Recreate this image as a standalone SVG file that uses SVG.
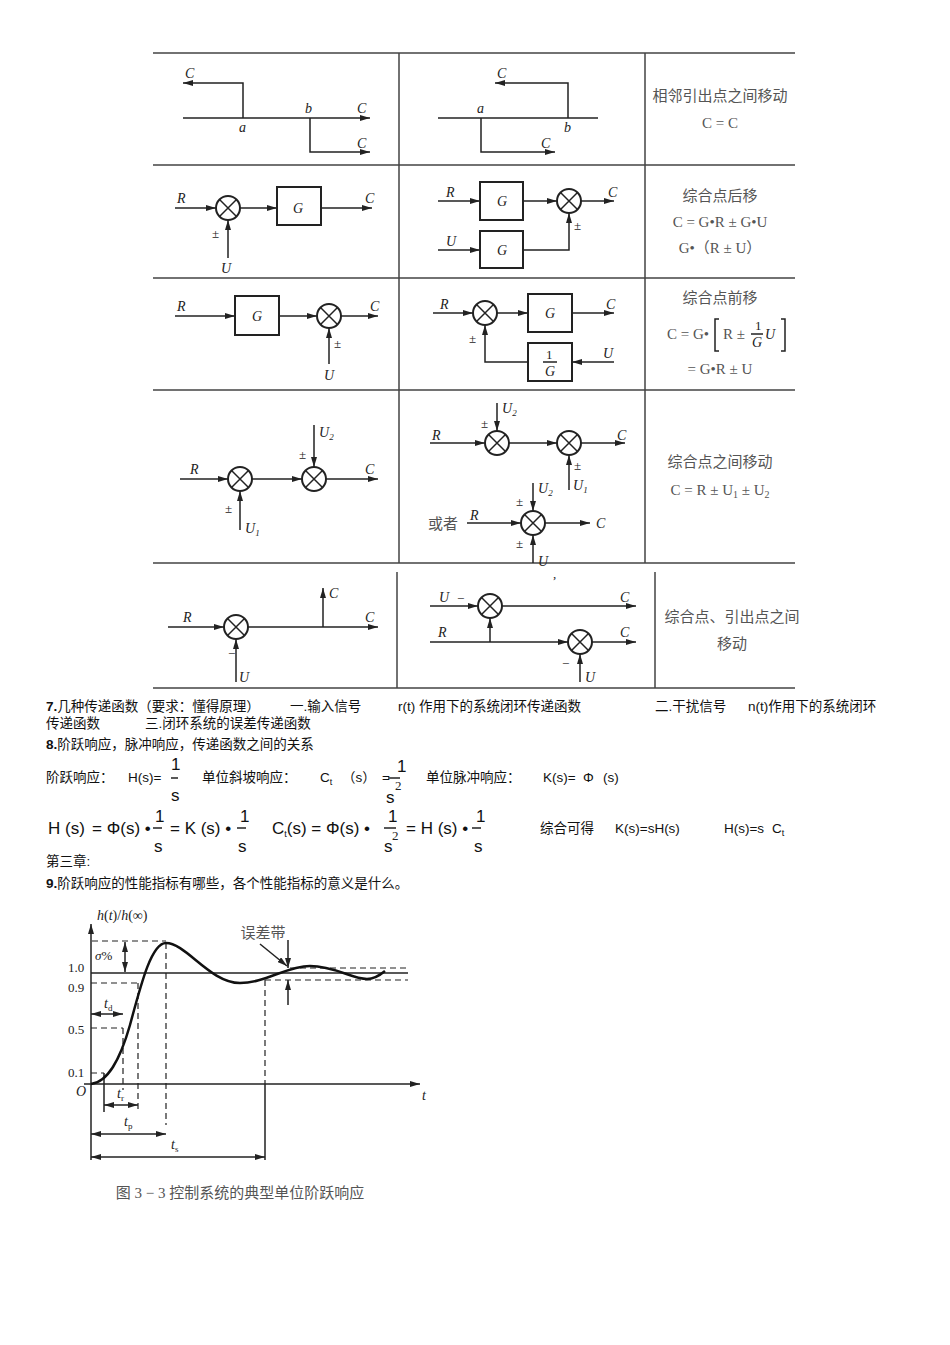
<svg xmlns="http://www.w3.org/2000/svg" width="950" height="1345" viewBox="0 0 950 1345">
<style>
.l{stroke:#222;stroke-width:1.5;fill:none}
.a{stroke:#222;stroke-width:1.5;fill:none;marker-end:url(#ar)}
.c{stroke:#222;stroke-width:2;fill:#fff}
.g{stroke:#444;stroke-width:1.5}
.d{stroke:#222;stroke-width:1.2;stroke-dasharray:6 4;fill:none}
.i{font-family:"Liberation Serif",serif;font-style:italic;font-size:14px;fill:#222}
.z{font-family:"Liberation Serif","Noto Sans CJK SC",serif;font-size:15px;fill:#555;text-anchor:middle}
.t{font-family:"Liberation Sans","Noto Sans CJK SC",sans-serif;font-size:13.5px;fill:#111}
.m{font-family:"Liberation Sans",sans-serif;font-size:17px;fill:#111}
.s{font-family:"Liberation Serif",serif;font-size:13px;fill:#222}
</style>
<defs>
<marker id="ar" markerWidth="10" markerHeight="6" refX="10" refY="3" orient="auto" markerUnits="userSpaceOnUse"><path d="M0,0 L10,3 L0,6 z" fill="#222"/></marker>
<symbol id="sum" overflow="visible"><circle r="12" class="c"/><path d="M-8.5,-8.5 L8.5,8.5 M8.5,-8.5 L-8.5,8.5" class="l"/></symbol>
</defs>
<rect width="950" height="1345" fill="#fff"/>
<g id="table">
<path class="g" d="M153,53H795M153,165H795M153,278H795M153,390H795M153,563H795M153,688H795M399,53V563M645,53V563M397,572V688M655,572V688"/>
</g>
<g id="connectors">
<path class="a" d="M243,118V83H183"/><path class="a" d="M183,118H370"/><path class="a" d="M310,118V152H370"/>
<path class="l" d="M438,118H598"/><path class="a" d="M481,118V152H555"/><path class="a" d="M568,118V83H495"/>
<path class="a" d="M175,208H216"/><path class="a" d="M240,208H277"/><path class="a" d="M321,208H372"/><path class="a" d="M228,258V220"/>
<path class="a" d="M438,201H480"/><path class="a" d="M523,201H557"/><path class="a" d="M581,201H614"/><path class="a" d="M438,250H480"/><path class="a" d="M523,250H569V213"/>
<path class="a" d="M175,316H235"/><path class="a" d="M279,316H317"/><path class="a" d="M341,316H378"/><path class="a" d="M329,364V328"/>
<path class="a" d="M433,313H473"/><path class="a" d="M497,313H528"/><path class="a" d="M572,313H614"/><path class="a" d="M614,362H572"/><path class="a" d="M528,362H485V325"/>
<path class="a" d="M180,479H228"/><path class="a" d="M252,479H302"/><path class="a" d="M326,479H378"/><path class="a" d="M314,425V467"/><path class="a" d="M240,530V491"/>
<path class="a" d="M430,443H485"/><path class="a" d="M509,443H557"/><path class="a" d="M581,443H625"/><path class="a" d="M497,403V431"/><path class="a" d="M569,490V455"/>
<path class="a" d="M467,523H521"/><path class="a" d="M545,523H590"/><path class="a" d="M533,483V511"/><path class="a" d="M533,563V535"/>
<path class="a" d="M168,627H224"/><path class="a" d="M248,627H378"/><path class="a" d="M323,627V588"/><path class="a" d="M236,682V639"/>
<path class="a" d="M430,606H478"/><path class="a" d="M502,606H636"/><path class="a" d="M430,642H568"/><path class="a" d="M592,642H636"/><path class="a" d="M490,642V618"/><path class="a" d="M580,682V654"/>
</g>
<g id="nodes">
<use href="#sum" x="228" y="208"/><rect x="277" y="187" width="44" height="38" class="c"/>
<rect x="480" y="182" width="43" height="38" class="c"/><rect x="480" y="231" width="43" height="37" class="c"/><use href="#sum" x="569" y="201"/>
<rect x="235" y="296" width="44" height="39" class="c"/><use href="#sum" x="329" y="316"/>
<use href="#sum" x="485" y="313"/><rect x="528" y="294" width="44" height="38" class="c"/><rect x="528" y="343" width="44" height="38" class="c"/>
<use href="#sum" x="240" y="479"/><use href="#sum" x="314" y="479"/>
<use href="#sum" x="497" y="443"/><use href="#sum" x="569" y="443"/><use href="#sum" x="533" y="523"/>
<use href="#sum" x="236" y="627"/><use href="#sum" x="490" y="606"/><use href="#sum" x="580" y="642"/>
</g>
<g id="labels">
<text class="i" x="185" y="78">C</text><text class="i" x="239" y="132">a</text><text class="i" x="305" y="113">b</text><text class="i" x="357" y="113">C</text><text class="i" x="357" y="148">C</text>
<text class="i" x="497" y="78">C</text><text class="i" x="477" y="113">a</text><text class="i" x="564" y="132">b</text><text class="i" x="541" y="148">C</text>
<text class="z" x="720" y="101">相邻引出点之间移动</text><text class="z" x="720" y="128">C = C</text>
<text class="i" x="177" y="203">R</text><text class="i" x="293" y="213">G</text><text class="i" x="365" y="203">C</text><text class="s" x="212" y="238">±</text><text class="i" x="221" y="273">U</text>
<text class="i" x="446" y="197">R</text><text class="i" x="497" y="206">G</text><text class="i" x="446" y="246">U</text><text class="i" x="497" y="255">G</text><text class="i" x="608" y="197">C</text><text class="s" x="574" y="230">±</text>
<text class="z" x="720" y="201">综合点后移</text><text class="z" x="720" y="227">C = G•R ± G•U</text><text class="z" x="720" y="253">G•（R ± U）</text>
<text class="i" x="177" y="311">R</text><text class="i" x="252" y="321">G</text><text class="i" x="370" y="311">C</text><text class="s" x="334" y="348">±</text><text class="i" x="324" y="380">U</text>
<text class="i" x="440" y="309">R</text><text class="i" x="545" y="318">G</text><text class="i" x="606" y="309">C</text><text class="s" x="546" y="359">1</text><path class="l" d="M543,362H557"/><text class="i" x="545" y="376">G</text><text class="i" x="603" y="358">U</text><text class="s" x="469" y="343">±</text>
<text class="z" x="720" y="303">综合点前移</text>
<text class="z" x="688" y="339">C = G•</text><path class="l" d="M719,319h-4v32h4M781,319h4v32h-4" stroke="#555"/><text class="z" x="734" y="339">R ±</text><text class="s" x="755" y="330" font-size="12">1</text><path class="l" d="M751,334H763" stroke="#555" stroke-width="1"/><text class="i" x="752" y="347" font-size="12">G</text><text class="i" x="765" y="339" fill="#555">U</text>
<text class="z" x="720" y="374">= G•R ± U</text>
<text class="i" x="190" y="474">R</text><text class="i" x="365" y="474">C</text><text class="s" x="299" y="459">±</text><text class="i" x="319" y="437">U<tspan font-size="9" dy="3">2</tspan></text><text class="s" x="225" y="513">±</text><text class="i" x="245" y="533">U<tspan font-size="9" dy="3">1</tspan></text>
<text class="i" x="432" y="440">R</text><text class="i" x="617" y="440">C</text><text class="s" x="481" y="428">±</text><text class="i" x="502" y="413">U<tspan font-size="9" dy="3">2</tspan></text><text class="s" x="574" y="470">±</text><text class="i" x="573" y="490">U<tspan font-size="9" dy="3">1</tspan></text>
<text class="z" x="443" y="529" font-size="14" fill="#333">或者</text><text class="i" x="470" y="520">R</text><text class="i" x="596" y="528">C</text><text class="s" x="516" y="506">±</text><text class="i" x="538" y="493">U<tspan font-size="9" dy="3">2</tspan></text><text class="s" x="516" y="548">±</text><text class="i" x="538" y="566">U</text>
<text class="z" x="720" y="467">综合点之间移动</text><text class="z" x="720" y="495">C = R ± U<tspan font-size="10" dy="3">1</tspan><tspan dy="-3"> ± U</tspan><tspan font-size="10" dy="3">2</tspan></text>
<text class="s" x="553" y="578">,</text>
<text class="i" x="183" y="622">R</text><text class="i" x="365" y="622">C</text><text class="i" x="329" y="598">C</text><text class="s" x="228" y="658">−</text><text class="i" x="239" y="682">U</text>
<text class="i" x="439" y="602">U</text><text class="s" x="457" y="603">−</text><text class="i" x="620" y="602">C</text><text class="i" x="438" y="637">R</text><text class="i" x="620" y="637">C</text><text class="s" x="562" y="668">−</text><text class="i" x="585" y="682">U</text>
<text class="z" x="732" y="622">综合点、引出点之间</text><text class="z" x="732" y="649">移动</text>
</g>
<g id="text">
<text class="t" x="46" y="711"><tspan font-weight="bold">7.</tspan>几种传递函数（要求：懂得原理）</text>
<text class="t" x="290" y="711">一.输入信号</text><text class="t" x="398" y="711">r(t) 作用下的系统闭环传递函数</text>
<text class="t" x="655" y="711">二.干扰信号</text><text class="t" x="748" y="711">n(t)作用下的系统闭环</text>
<text class="t" x="46" y="728">传递函数</text><text class="t" x="145" y="728">三.闭环系统的误差传递函数</text>
<text class="t" x="46" y="749"><tspan font-weight="bold">8.</tspan>阶跃响应，脉冲响应，传递函数之间的关系</text>
<text class="t" x="46" y="782">阶跃响应：</text><text class="t" x="128" y="782">H(s)=</text><text class="m" x="171" y="770">1</text><path class="l" d="M171,778h7" stroke-width="1"/><text class="m" x="171" y="801">s</text>
<text class="t" x="202" y="782">单位斜坡响应：</text><text class="t" x="320" y="782">C<tspan font-size="9" dy="3">t</tspan></text><text class="t" x="342" y="782">（s）</text><text class="t" x="382" y="782">=</text><text class="m" x="397" y="772">1</text><path class="l" d="M388,778h12" stroke-width="1"/><text class="m" x="386" y="803">s</text><text class="s" x="395" y="790" font-size="10">2</text>
<text class="t" x="426" y="782">单位脉冲响应：</text><text class="t" x="543" y="782">K(s)=</text><text class="t" x="583" y="782" font-size="16">Φ</text><text class="t" x="603" y="782">(s)</text>
<text class="m" x="48" y="834">H (s)</text><text class="m" x="92" y="834">= Φ(s) •</text><text class="m" x="155" y="822">1</text><path class="l" d="M153,828h9" stroke-width="1"/><text class="m" x="154" y="852">s</text>
<text class="m" x="170" y="834">= K (s) •</text><text class="m" x="240" y="822">1</text><path class="l" d="M237,828h9" stroke-width="1"/><text class="m" x="238" y="852">s</text>
<text class="m" x="272" y="834">C<tspan font-size="9" dy="3">t</tspan><tspan dy="-3">(s) = Φ(s) •</tspan></text><text class="m" x="388" y="822">1</text><path class="l" d="M384,828h12" stroke-width="1"/><text class="m" x="384" y="852">s</text><text class="s" x="392" y="840" font-size="10">2</text>
<text class="m" x="406" y="834">= H (s) •</text><text class="m" x="476" y="822">1</text><path class="l" d="M472,828h9" stroke-width="1"/><text class="m" x="474" y="852">s</text>
<text class="t" x="540" y="833">综合可得</text><text class="t" x="615" y="833">K(s)=sH(s)</text><text class="t" x="724" y="833">H(s)=s</text><text class="t" x="772" y="833" font-size="16">C<tspan font-size="9" dy="3">t</tspan></text>
<text class="t" x="46" y="866">第三章:</text>
<text class="t" x="46" y="888"><tspan font-weight="bold">9.</tspan>阶跃响应的性能指标有哪些，各个性能指标的意义是什么。</text>
</g>
<g id="graph">
<path class="a" d="M91,1160V924"/><path class="a" d="M84,1084H420"/>
<path class="l" d="M91,973H408" stroke-width="1.2"/>
<path class="d" d="M290,968H408M265,980H408M92,941H166M166,943V1125M91,983H138M138,983V1112M91,1028H123M123,1028V1090M91,1073H104M265,980V1084"/>
<path class="l" d="M104,1073V1112M265,1084V1160" stroke-width="1.2"/>
<path d="M91,1084 C108,1082 120,1060 130,1025 C142,980 152,943 166,943 C186,943 210,983 240,983 C265,983 287,966 310,966 C335,966 352,979 367,979 C374,979 379,976 385,971" fill="none" stroke="#111" stroke-width="2.5"/>
<path class="a" d="M125,957V942"/><path class="a" d="M125,957V972"/>
<path class="a" d="M107,1014H91"/><path class="a" d="M107,1014H123"/>
<path class="a" d="M121,1105H104"/><path class="a" d="M121,1105H138"/>
<path class="a" d="M128,1134H91"/><path class="a" d="M128,1134H166"/>
<path class="a" d="M178,1157H91"/><path class="a" d="M178,1157H265"/>
<path class="a" d="M288,940V968"/><path class="a" d="M288,1005V980"/><path class="a" d="M260,944L287,966"/>
<text class="i" x="97" y="920">h<tspan font-style="normal">(</tspan>t<tspan font-style="normal">)/</tspan>h<tspan font-style="normal">(∞)</tspan></text>
<text class="s" x="95" y="960"><tspan font-style="italic">σ</tspan>%</text>
<text class="s" x="68" y="972">1.0</text><text class="s" x="68" y="992">0.9</text><text class="s" x="68" y="1034">0.5</text><text class="s" x="68" y="1077">0.1</text><text class="i" x="76" y="1096">O</text><text class="i" x="422" y="1100">t</text>
<text class="i" x="104" y="1008">t<tspan font-style="normal" font-size="9" dy="3">d</tspan></text>
<text class="i" x="117" y="1098">t<tspan font-style="normal" font-size="9" dy="3">r</tspan></text>
<text class="i" x="124" y="1126">t<tspan font-style="normal" font-size="9" dy="3">p</tspan></text>
<text class="i" x="171" y="1149">t<tspan font-style="normal" font-size="9" dy="3">s</tspan></text>
<text class="z" x="263" y="938" font-size="14" fill="#333">误差带</text>
<text class="z" x="240" y="1198" fill="#555">图 3 − 3   控制系统的典型单位阶跃响应</text>
</g>
</svg>
